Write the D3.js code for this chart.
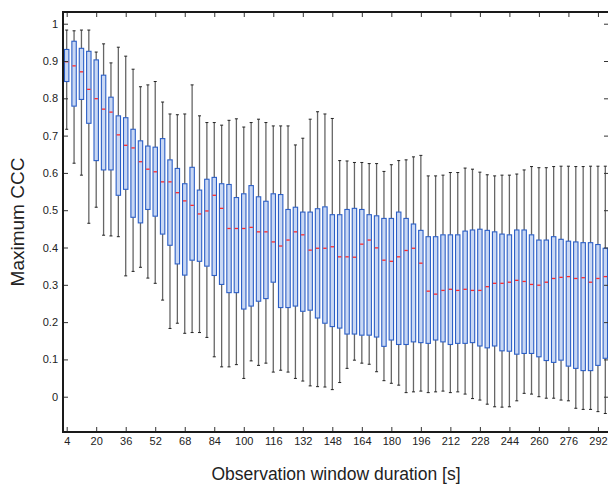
<!DOCTYPE html>
<html>
<head>
<meta charset="utf-8">
<script src="https://cdn.jsdelivr.net/npm/d3@7"></script>
<style>
  html, body { margin: 0; padding: 0; background: #fff; }
  svg { display: block; }
  text { font-family: "Liberation Sans", Arial, Helvetica, sans-serif; }
</style>
</head>
<body>
<svg id="chart" width="608" height="486"></svg>
<script>
// Observation window durations [s], one box per window
const durations = d3.range(4, 297, 4);

// Box statistics of the maximum CCC per window duration
const whiskerHigh = [0.983,0.981,0.983,0.983,0.924,0.946,0.895,0.937,0.913,0.878,0.831,0.836,0.845,0.790,0.758,0.756,0.758,0.836,0.753,0.735,
  0.735,0.728,0.741,0.745,0.723,0.735,0.744,0.735,0.726,0.726,0.726,0.675,0.693,0.744,0.764,0.758,0.746,0.633,0.632,0.628,
  0.628,0.625,0.625,0.604,0.622,0.633,0.635,0.643,0.647,0.592,0.592,0.594,0.601,0.601,0.613,0.610,0.602,0.595,0.592,0.594,
  0.594,0.597,0.608,0.617,0.614,0.614,0.617,0.618,0.618,0.617,0.617,0.618,0.618,0.618];
const upperQuartile = [0.931,0.953,0.934,0.926,0.903,0.862,0.803,0.753,0.748,0.717,0.686,0.672,0.669,0.692,0.635,0.612,0.571,0.615,0.554,0.583,
  0.588,0.571,0.569,0.534,0.544,0.566,0.536,0.524,0.544,0.542,0.502,0.508,0.495,0.495,0.504,0.509,0.488,0.488,0.502,0.505,
  0.502,0.488,0.485,0.478,0.478,0.495,0.478,0.463,0.446,0.429,0.429,0.434,0.434,0.434,0.444,0.447,0.449,0.446,0.442,0.436,
  0.434,0.447,0.447,0.434,0.420,0.420,0.429,0.422,0.417,0.415,0.413,0.413,0.408,0.398];
const medians = [0.898,0.887,0.871,0.824,0.799,0.771,0.763,0.702,0.674,0.667,0.630,0.610,0.603,0.576,0.576,0.547,0.525,0.513,0.490,0.498,
  0.540,0.505,0.451,0.451,0.451,0.454,0.442,0.442,0.415,0.404,0.420,0.442,0.434,0.393,0.398,0.398,0.402,0.375,0.375,0.374,
  0.409,0.420,0.399,0.366,0.363,0.375,0.392,0.398,0.358,0.283,0.275,0.285,0.288,0.285,0.288,0.285,0.285,0.295,0.304,0.304,
  0.307,0.312,0.309,0.301,0.299,0.307,0.317,0.320,0.322,0.317,0.319,0.307,0.317,0.322];
const lowerQuartile = [0.845,0.779,0.797,0.733,0.633,0.608,0.608,0.540,0.556,0.481,0.466,0.502,0.484,0.436,0.406,0.356,0.326,0.366,0.363,0.350,
  0.325,0.301,0.279,0.279,0.235,0.243,0.256,0.263,0.307,0.239,0.239,0.243,0.229,0.232,0.211,0.197,0.188,0.184,0.168,0.168,
  0.165,0.165,0.160,0.135,0.152,0.140,0.140,0.147,0.145,0.143,0.152,0.147,0.140,0.143,0.143,0.145,0.136,0.131,0.136,0.123,
  0.122,0.114,0.116,0.116,0.107,0.097,0.092,0.098,0.082,0.076,0.070,0.070,0.084,0.103];
const whiskerLow = [0.717,0.626,0.594,0.465,0.508,0.433,0.431,0.429,0.324,0.336,0.347,0.318,0.304,0.259,0.183,0.197,0.170,0.172,0.172,0.159,
  0.107,0.080,0.080,0.086,0.049,0.096,0.084,0.090,0.066,0.071,0.066,0.049,0.042,0.029,0.027,0.026,0.019,0.038,0.076,0.098,
  0.090,0.087,0.067,0.043,0.036,0.031,0.011,0.013,0.015,0.011,0.013,0.015,0.011,0.013,0.007,-0.005,-0.009,-0.020,-0.027,-0.028,
  -0.027,-0.011,0.009,0.007,0.000,-0.004,-0.004,-0.009,-0.011,-0.031,-0.034,-0.034,-0.040,-0.045];

// Axis ticks
const xTicks = d3.range(4, 293, 16);
const yTicks = d3.range(0, 11).map(d => d / 10);
const yTickLabels = yTicks.map(d => d === 0 ? "0" : d === 1 ? "1" : d.toFixed(1));

const boxes = durations.map((t, i) => ({
  t, hi: whiskerHigh[i], q3: upperQuartile[i], med: medians[i], q1: lowerQuartile[i], lo: whiskerLow[i]
}));

const svg = d3.select("#chart");
const plotLeft = 63, plotRight = 609, plotTop = 12, plotBottom = 432;

const x = d3.scaleLinear().domain([2, 298]).range([plotLeft, plotRight]);
const y = d3.scaleLinear().domain([-0.0946, 1.0314]).range([plotBottom, plotTop]);

const boxHalf = 2.2;
const g = svg.append("g");

// Whiskers
g.selectAll("line.whisker-up").data(boxes).join("line")
  .attr("x1", d => x(d.t)).attr("x2", d => x(d.t))
  .attr("y1", d => y(d.q3)).attr("y2", d => y(d.hi))
  .attr("stroke", "#666").attr("stroke-width", 1.3);
g.selectAll("line.whisker-down").data(boxes).join("line")
  .attr("x1", d => x(d.t)).attr("x2", d => x(d.t))
  .attr("y1", d => y(d.q1)).attr("y2", d => y(d.lo))
  .attr("stroke", "#666").attr("stroke-width", 1.3);

// Whisker end caps
g.selectAll("line.cap-hi").data(boxes).join("line")
  .attr("x1", d => x(d.t) - 1.5).attr("x2", d => x(d.t) + 1.5)
  .attr("y1", d => y(d.hi)).attr("y2", d => y(d.hi))
  .attr("stroke", "#222").attr("stroke-width", 1);
g.selectAll("line.cap-lo").data(boxes).join("line")
  .attr("x1", d => x(d.t) - 1.5).attr("x2", d => x(d.t) + 1.5)
  .attr("y1", d => y(d.lo)).attr("y2", d => y(d.lo))
  .attr("stroke", "#222").attr("stroke-width", 1);

// Interquartile boxes
g.selectAll("rect.box").data(boxes).join("rect")
  .attr("x", d => x(d.t) - boxHalf)
  .attr("width", boxHalf * 2)
  .attr("y", d => y(d.q3))
  .attr("height", d => y(d.q1) - y(d.q3))
  .attr("fill", "#c9d8f4")
  .attr("stroke", "#2c5fc6")
  .attr("stroke-width", 1.1);

// Medians
g.selectAll("line.median").data(boxes).join("line")
  .attr("x1", d => x(d.t) - boxHalf + 0.5).attr("x2", d => x(d.t) + boxHalf - 0.5)
  .attr("y1", d => y(d.med)).attr("y2", d => y(d.med))
  .attr("stroke", "#ff2b2b").attr("stroke-width", 1.3);

// Axes with inward ticks on all four sides
function styleAxis(sel) {
  sel.select(".domain").remove();
  sel.selectAll(".tick line").attr("stroke", "#333").attr("stroke-width", 1);
  sel.selectAll(".tick text").attr("fill", "#222")
    .style("font-family", '"Liberation Sans", Arial, Helvetica, sans-serif')
    .style("font-size", "11px");
}

svg.append("g").attr("transform", `translate(${plotLeft},0)`)
  .call(d3.axisLeft(y).tickValues(yTicks).tickFormat((d, i) => yTickLabels[i])
    .tickSizeInner(-5).tickSizeOuter(0).tickPadding(5))
  .call(styleAxis);

svg.append("g").attr("transform", `translate(${plotRight},0)`)
  .call(d3.axisRight(y).tickValues(yTicks).tickFormat("")
    .tickSizeInner(-5).tickSizeOuter(0))
  .call(styleAxis);

svg.append("g").attr("transform", `translate(0,${plotBottom})`)
  .call(d3.axisBottom(x).tickValues(xTicks).tickFormat(d3.format("d"))
    .tickSizeInner(-5).tickSizeOuter(0).tickPadding(5))
  .call(styleAxis);

svg.append("g").attr("transform", `translate(0,${plotTop})`)
  .call(d3.axisTop(x).tickValues(xTicks).tickFormat("")
    .tickSizeInner(-5).tickSizeOuter(0))
  .call(styleAxis);

// Frame
svg.append("rect")
  .attr("x", plotLeft).attr("y", plotTop)
  .attr("width", plotRight - plotLeft).attr("height", plotBottom - plotTop)
  .attr("fill", "none").attr("stroke", "#1a1a1a").attr("stroke-width", 2);

// Axis titles
svg.append("text")
  .attr("x", (plotLeft + plotRight) / 2).attr("y", 480)
  .attr("text-anchor", "middle")
  .attr("fill", "#222")
  .style("font-size", "17.5px")
  .text("Observation window duration [s]");

svg.append("text")
  .attr("transform", `translate(24,${(plotTop + plotBottom) / 2}) rotate(-90)`)
  .attr("text-anchor", "middle")
  .attr("fill", "#222")
  .style("font-size", "19px")
  .text("Maximum CCC");
</script>
</body>
</html>
